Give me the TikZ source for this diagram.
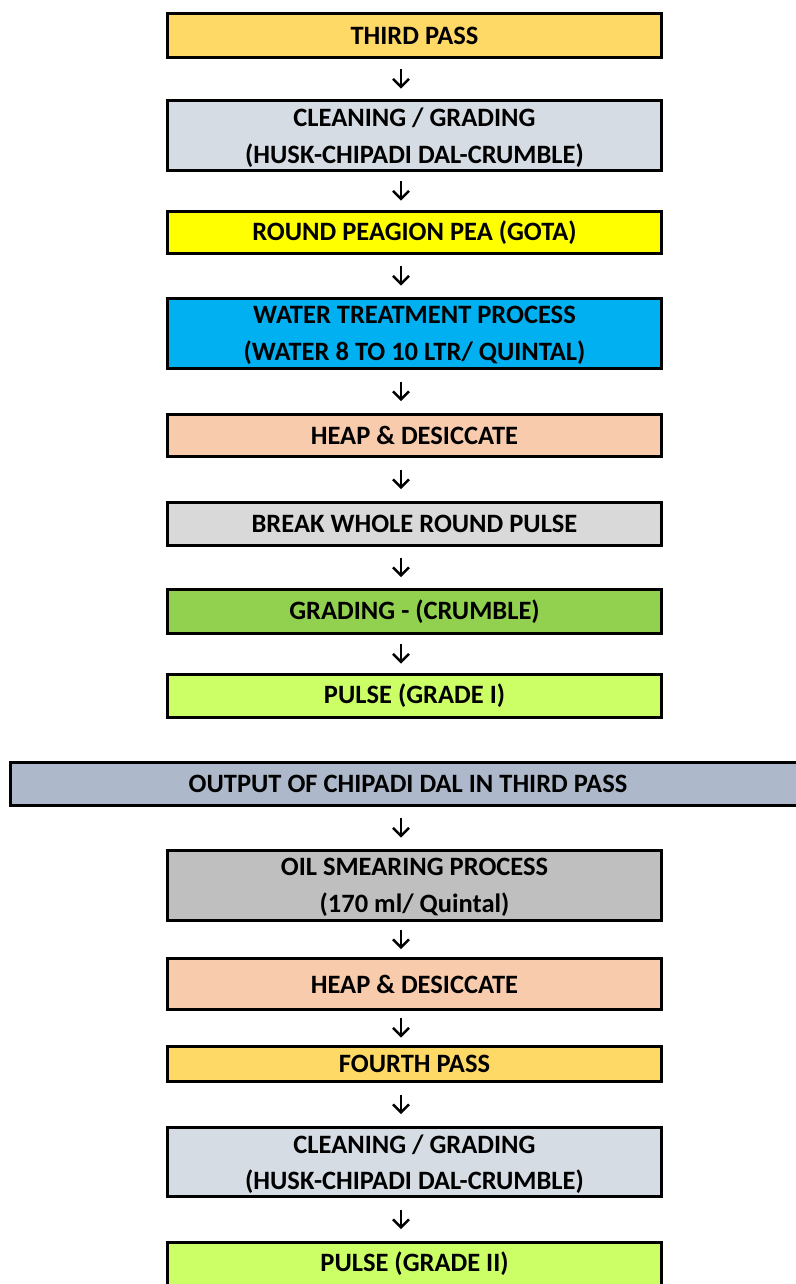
\documentclass[tikz,border=0pt]{standalone}
\usepackage{fontspec}
\setmainfont{Carlito}
\usetikzlibrary{arrows.meta}

\definecolor{passgold}{HTML}{FFD966}
\definecolor{cleangray}{HTML}{D6DCE4}
\definecolor{gotayellow}{HTML}{FFFF00}
\definecolor{waterblue}{HTML}{00B0F0}
\definecolor{heappeach}{HTML}{F8CBAD}
\definecolor{breakgray}{HTML}{D9D9D9}
\definecolor{gradegreen}{HTML}{92D050}
\definecolor{pulselime}{HTML}{CCFF66}
\definecolor{outputslate}{HTML}{ADB9CA}
\definecolor{oilgray}{HTML}{BFBFBF}

\begin{document}
\begin{tikzpicture}[x=1pt,y=-1pt,
    box/.style={draw=black, line width=2.6pt, minimum width=494pt, inner sep=0pt, align=center,
                font=\fontsize{26.5}{36.5}\selectfont\bfseries},
    twoline/.style={box, text depth=0pt},
    flow/.style={line width=2.5pt, -{Straight Barb[length=8pt,width=16pt]}},
    trim/.style={shorten <=#1, shorten >=#1}]
    \useasboundingbox (0,0) rectangle (795,1284);
    % arrows all run down this line
    \coordinate (axis) at (401,0);

    % third pass
    \node [box, fill=passgold, minimum height=44.5pt] (third) at (414.5,35.5) {THIRD PASS};
    % cleaning / grading
    \node [twoline, fill=cleangray, minimum height=70.5pt] (clean) at (414.5,135.5) {CLEANING / GRADING\\(HUSK-CHIPADI DAL-CRUMBLE)};
    % round pea
    \node [box, fill=gotayellow, minimum height=42.5pt] (gota) at (414.5,232.5) {ROUND PEAGION PEA (GOTA)};
    % water treatment
    \node [twoline, fill=waterblue, minimum height=70.5pt] (water) at (414.5,333.5) {WATER TREATMENT PROCESS\\(WATER 8 TO 10 LTR/ QUINTAL)};
    % heap
    \node [box, fill=heappeach, minimum height=42.5pt] (heap) at (414.5,435.5) {HEAP \& DESICCATE};
    % break
    \node [box, fill=breakgray, minimum height=43.5pt] (break) at (414.5,524) {BREAK WHOLE ROUND PULSE};
    % grading
    \node [box, fill=gradegreen, minimum height=44.5pt] (grading) at (414.5,611.5) {GRADING - (CRUMBLE)};
    % grade I
    \node [box, fill=pulselime, minimum height=43.5pt] (gradeone) at (414.5,696) {PULSE (GRADE I)};

    % chipadi dal output, wide box
    \node [box, fill=outputslate, minimum width=795.4pt, minimum height=43.5pt] (output) at (408,784) {OUTPUT OF CHIPADI DAL IN THIRD PASS};
    % oil smearing
    \node [twoline, fill=oilgray, minimum height=70.5pt] (oil) at (414.5,885.5) {OIL SMEARING PROCESS\\(170 ml/ Quintal)};
    % heap again
    \node [box, fill=heappeach, minimum height=51.5pt] (heaptwo) at (414.5,984) {HEAP \& DESICCATE};
    % fourth pass
    \node [box, fill=passgold, minimum height=35.5pt] (fourth) at (414.5,1064) {FOURTH PASS};
    % cleaning / grading again
    \node [twoline, fill=cleangray, minimum height=69.5pt] (cleantwo) at (414.5,1162) {CLEANING / GRADING\\(HUSK-CHIPADI DAL-CRUMBLE)};
    % grade II
    \node [box, fill=pulselime, minimum height=43.5pt] (gradetwo) at (414.5,1264) {PULSE (GRADE II)};

    % arrows
    \draw [flow, trim=10.25pt] (third.south -| axis) -- (clean.north -| axis);
    \draw [flow, trim=9.25pt] (clean.south -| axis) -- (gota.north -| axis);
    \draw [flow, trim=11.25pt] (gota.south -| axis) -- (water.north -| axis);
    \draw [flow, trim=11.75pt] (water.south -| axis) -- (heap.north -| axis);
    \draw [flow, trim=11.75pt] (heap.south -| axis) -- (break.north -| axis);
    \draw [flow, trim=10.75pt] (break.south -| axis) -- (grading.north -| axis);
    \draw [flow, trim=9.25pt] (grading.south -| axis) -- (gradeone.north -| axis);
    \draw [flow, trim=11.25pt] (output.south -| axis) -- (oil.north -| axis);
    \draw [flow, trim=7.75pt] (oil.south -| axis) -- (heaptwo.north -| axis);
    \draw [flow, trim=7.25pt] (heaptwo.south -| axis) -- (fourth.north -| axis);
    \draw [flow, trim=11.75pt] (fourth.south -| axis) -- (cleantwo.north -| axis);
    \draw [flow, trim=11.75pt] (cleantwo.south -| axis) -- (gradetwo.north -| axis);
\end{tikzpicture}
\end{document}
